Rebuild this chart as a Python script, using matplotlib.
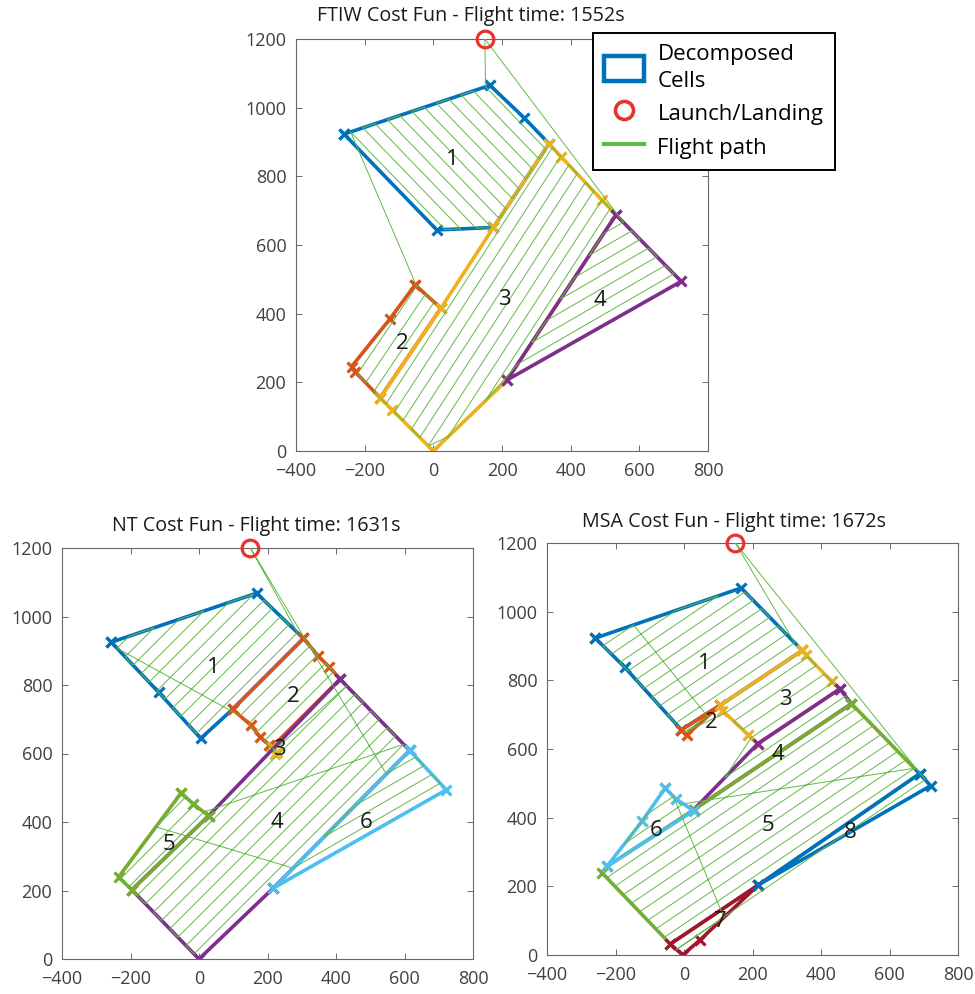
#Main imports
import numpy as np
import matplotlib
matplotlib.use('Agg')
import matplotlib.pyplot as plt
import matplotlib.patches as mpatches
from matplotlib.lines import Line2D

plt.rcParams['font.family'] = ['Open Sans', 'DejaVu Sans']

#Shared bits
launch = (150, 1200)
x_ticks = [-400, -200, 0, 200, 400, 600, 800]
y_ticks = [0, 200, 400, 600, 800, 1000, 1200]
sweep_spacing = 34.0

blue, orange, yellow, purple = '#0072BD', '#D95319', '#EDB120', '#7E2F8E'
green, cyan, darkred = '#77AC30', '#4DBEEE', '#A2142F'
path_green = '#62B946'
launch_red = '#E8322B'

#FTIW cost function decomposition
ftiw_title = 'FTIW Cost Fun - Flight time: 1552s'
ftiw_cells = [
    [(-260, 923), (165, 1065), (265, 970), (337, 895), (175, 651), (10, 644)],
    [(-53, 484), (22, 416), (-155, 155), (-228, 231), (-238, 246), (-127, 384)],
    [(337, 895), (373, 856), (490, 732), (532, 688), (215, 207), (0, 0),
     (-120, 120), (-155, 155), (22, 416), (175, 651)],
    [(532, 688), (722, 494), (215, 207)],
]
ftiw_angles = [-46, 56, 57, 30]
ftiw_labels = [(56, 850), (-90, 314), (207, 440), (485, 437)]
ftiw_colors = [blue, orange, yellow, purple]

#NT cost function decomposition
nt_title = 'NT Cost Fun - Flight time: 1631s'
nt_cells = [
    [(-256, 925), (168, 1068), (305, 936), (98, 729), (5, 644), (-118, 779)],
    [(305, 936), (348, 885), (380, 853), (412, 817), (212, 618), (205, 625),
     (178, 649), (151, 683), (98, 729)],
    [(212, 618), (228, 603), (221, 600)],
    [(412, 817), (615, 609), (217, 207), (0, 0), (-196, 202), (28, 418)],
    [(-52, 485), (-18, 454), (28, 418), (-196, 202), (-235, 239)],
    [(615, 609), (722, 494), (217, 207)],
]
nt_angles = [45, 45, 45, 45, 45, 30]
nt_labels = [(42, 850), (275, 767), (236, 611), (227, 399), (-89, 334), (487, 399)]
nt_colors = [blue, orange, yellow, purple, green, cyan]

#MSA cost function decomposition
msa_title = 'MSA Cost Fun - Flight time: 1672s'
msa_cells = [
    [(-259, 923), (167, 1069), (345, 887), (105, 727), (-8, 656), (-173, 838)],
    [(-8, 656), (8, 641), (105, 727)],
    [(345, 887), (355, 875), (431, 797), (455, 775), (215, 615), (188, 641),
     (112, 712), (105, 727)],
    [(455, 775), (489, 732), (28, 423), (215, 615)],
    [(489, 732), (688, 528), (217, 204), (-40, 32), (-240, 240), (-225, 258), (28, 423)],
    [(-55, 486), (-24, 455), (28, 420), (-225, 258), (-123, 389)],
    [(217, 204), (47, 44), (-4, 0), (-40, 32)],
    [(688, 528), (720, 493), (217, 204)],
]
msa_angles = [34, 34, 34, 34, 34, 34, 34, 34]
msa_labels = [(60, 850), (81, 677), (295, 743), (275, 583), (246, 376),
              (-82, 364), (105, 97), (484, 357)]
msa_colors = [blue, orange, yellow, purple, green, cyan, darkred, blue]


def sweep_lines(poly, angle, spacing=sweep_spacing):
    '''Parallel coverage lines clipped to a cell polygon.'''
    poly = np.asarray(poly, float)
    d = np.array([np.cos(np.radians(angle)), np.sin(np.radians(angle))])
    n = np.array([-d[1], d[0]])
    proj = poly @ n
    lo, hi = proj.min(), proj.max()
    count = max(1, int((hi - lo) // spacing))
    offsets = lo + (hi - lo - (count - 1) * spacing) / 2 + spacing * np.arange(count)
    lines = []
    for c in offsets:
        pts = []
        for a, b in zip(poly, np.roll(poly, -1, axis=0)):
            da, db = a @ n - c, b @ n - c
            if da * db < 0:
                pts.append(a + (b - a) * da / (da - db))
        if len(pts) >= 2:
            pts = sorted(pts, key=lambda p: p @ d)
            lines.append((pts[0], pts[-1]))
    return lines


def cell_path(lines, start):
    '''Back and forth over the lines, starting at the end nearest to start.'''
    best = None
    for rev in (False, True):
        seq = lines[::-1] if rev else lines
        for flip in (False, True):
            pts = []
            for i, (p, q) in enumerate(seq):
                if (i % 2 == 1) != flip:
                    p, q = q, p
                pts += [p, q]
            dist = np.hypot(*(pts[0] - np.asarray(start)))
            if best is None or dist < best[0]:
                best = (dist, pts)
    return best[1]


def draw_plan(ax, cells, angles, labels, colors):
    #Cells first
    for cell, col in zip(cells, colors):
        xs = [p[0] for p in cell] + [cell[0][0]]
        ys = [p[1] for p in cell] + [cell[0][1]]
        ax.plot(xs, ys, color=col, lw=2.6, marker='x', ms=7, mew=2.3, zorder=2)

    #Flight path: launch -> each cell in turn -> launch
    path = [np.array(launch, float)]
    for cell, ang in zip(cells, angles):
        pts = cell_path(sweep_lines(cell, ang), path[-1])
        path += pts
    path.append(np.array(launch, float))
    path = np.array(path)
    ax.plot(path[:, 0], path[:, 1], color=path_green, lw=0.7, zorder=3)

    ax.plot(*launch, 'o', ms=12, mfc='none', mec=launch_red, mew=2.3,
            zorder=5, clip_on=False)

    for i, (lx, ly) in enumerate(labels):
        ax.text(lx, ly, str(i + 1), fontsize=16, color='#1a1a1a',
                ha='center', va='center', zorder=4)

    ax.set_xlim(-400, 800)
    ax.set_ylim(0, 1200)
    ax.set_xticks(x_ticks)
    ax.set_yticks(y_ticks)
    ax.tick_params(direction='in', top=True, right=True, length=4, width=0.6,
                   color='#555555', labelcolor='#404040', labelsize=13)
    ax.tick_params(axis='x', pad=8)
    ax.tick_params(axis='y', pad=7)
    for sp in ax.spines.values():
        sp.set_color('#666666')
        sp.set_linewidth(0.8)


W, H = 975, 994
fig = plt.figure(figsize=(W / 100, H / 100), dpi=100)

def px_axes(left, top, right, bottom):
    return fig.add_axes([left / W, 1 - bottom / H, (right - left) / W, (bottom - top) / H])

ax_top = px_axes(296, 39, 708, 451)
ax_nt = px_axes(62, 548, 473, 959)
ax_msa = px_axes(547, 543, 958, 955)

draw_plan(ax_top, ftiw_cells, ftiw_angles, ftiw_labels, ftiw_colors)
draw_plan(ax_nt, nt_cells, nt_angles, nt_labels, nt_colors)
draw_plan(ax_msa, msa_cells, msa_angles, msa_labels, msa_colors)

fig.text(471 / W, 1 - 16 / H, ftiw_title, fontsize=14.2, color='#1a1a1a', ha='center', va='center')
fig.text(256 / W, 1 - 526 / H, nt_title, fontsize=14.2, color='#1a1a1a', ha='center', va='center')
fig.text(734 / W, 1 - 522 / H, msa_title, fontsize=14.2, color='#1a1a1a', ha='center', va='center')

#Legend
handles = [
    mpatches.Patch(facecolor='white', edgecolor=blue, lw=3.2, label='Decomposed\nCells'),
    Line2D([], [], ls='none', marker='o', ms=13, mfc='none', mec=launch_red, mew=2.6,
           label='Launch/Landing'),
    Line2D([], [], color=path_green, lw=3, label='Flight path'),
]
leg = fig.legend(handles=handles, loc='upper left', bbox_to_anchor=(593 / W, 1 - 33 / H),
                 bbox_transform=fig.transFigure, borderaxespad=0, fontsize=16,
                 handlelength=1.8, handleheight=1.3, handletextpad=0.6, borderpad=0.5,
                 labelspacing=0.4, fancybox=False, framealpha=1, edgecolor='black')
leg.get_frame().set_linewidth(1.4)
leg.get_texts()[0].set_linespacing(1.35)

fig.savefig('out.png', dpi=100)
